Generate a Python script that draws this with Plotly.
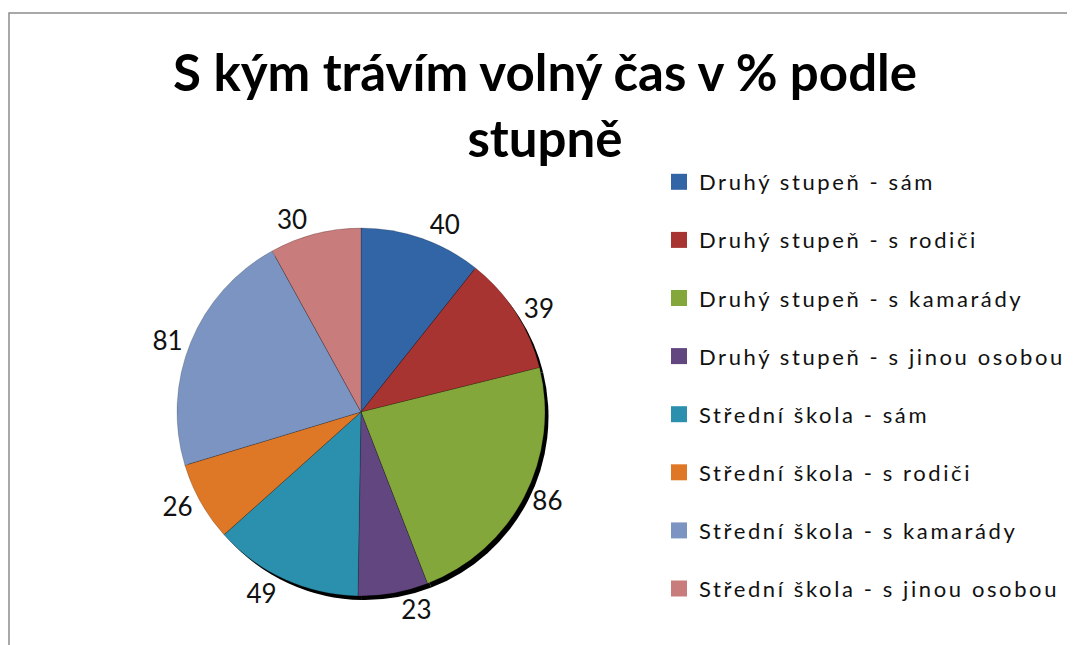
import plotly.graph_objects as go

labels = [
    "Druhý stupeň - sám",
    "Druhý stupeň - s rodiči",
    "Druhý stupeň - s kamarády",
    "Druhý stupeň - s jinou osobou",
    "Střední škola - sám",
    "Střední škola - s rodiči",
    "Střední škola - s kamarády",
    "Střední škola - s jinou osobou",
]
values = [40, 39, 86, 23, 49, 26, 81, 30]
colors = ["#3265a5", "#a83431", "#84a73c", "#61467f",
          "#2b90ad", "#de7826", "#7b94c1", "#c87c7b"]

FONT = "Lato"
W, H = 1075, 645

# pie domain in figure pixels (left, right, top, bottom)
px_l, px_r, px_t, px_b = 169, 537, 220, 588
dom_x = [px_l / W, px_r / W]
dom_y = [1 - px_b / H, 1 - px_t / H]

# shadow pie (no labels, so its radius is half its domain)
cx, cy, r, sh = 352, 403.5, 183.5, 5
sh_x = [(cx + sh - r) / W, (cx + sh + r) / W]
sh_y = [1 - (cy + sh + r) / H, 1 - (cy + sh - r) / H]

fig = go.Figure()

fig.add_trace(go.Pie(
    values=values, labels=labels, sort=False, direction="clockwise",
    marker=dict(colors=["#000000"] * len(values)),
    textinfo="none", domain=dict(x=sh_x, y=sh_y),
    showlegend=False, hoverinfo="skip",
))

fig.add_trace(go.Pie(
    values=values, labels=labels, sort=False, direction="clockwise",
    marker=dict(colors=colors, line=dict(color="rgba(0,0,0,0.3)", width=0.6)),
    textinfo="value", textposition="outside",
    textfont=dict(family=FONT, size=26, color="#111111"),
    domain=dict(x=dom_x, y=dom_y), showlegend=False,
))

# legend entries
for lab, col in zip(labels, colors):
    fig.add_trace(go.Scatter(
        x=[None], y=[None], mode="markers", legendgroup=lab,
        name='<span style="letter-spacing:2.6px">' + lab + "</span>",
        marker=dict(symbol="square", size=18, color=col),
    ))

fig.update_layout(
    width=W, height=H,
    margin=dict(l=0, r=0, t=0, b=0),
    paper_bgcolor="white", plot_bgcolor="white",
    title=dict(
        text="S kým trávím volný čas v % podle<br>stupně",
        font=dict(family=FONT, size=51, color="#000000", weight="bold"),
        x=537 / W, xanchor="center", y=0.872, yanchor="top", yref="container",
    ),
    xaxis=dict(visible=False), yaxis=dict(visible=False),
    legend=dict(
        x=651 / W, xanchor="left", y=1 - 153 / H, yanchor="top",
        font=dict(family=FONT, size=22, color="#111111"),
        tracegroupgap=26.5, itemwidth=30, bgcolor="rgba(0,0,0,0)",
    ),
    shapes=[dict(
        type="rect", xref="paper", yref="paper",
        x0=1 / W, x1=1.05, y0=-0.05, y1=1 - 5 / H,
        line=dict(color="#8c8c8c", width=1.5),
    )],
)

fig.write_html("out.html")
